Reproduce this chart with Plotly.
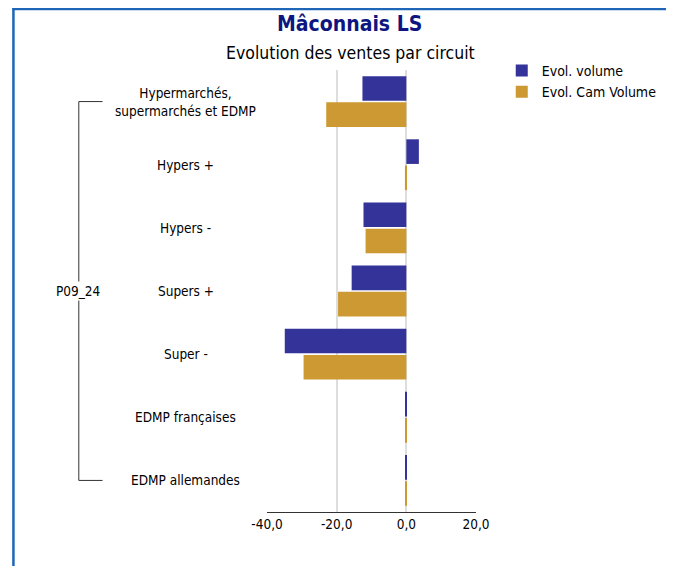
import plotly.graph_objects as go

categories = ["Hypermarchés, supermarchés et EDMP", "Hypers +", "Hypers -", "Supers +",
              "Super -", "EDMP françaises", "EDMP allemandes"]
category_labels = ["Hypermarchés,<br>supermarchés et EDMP", "Hypers +", "Hypers -", "Supers +",
                   "Super -", "EDMP françaises", "EDMP allemandes"]
evol_volume = [-12.6, 3.6, -12.3, -15.7, -34.9, -0.2, -0.2]
evol_cam_volume = [-23.0, -0.4, -11.7, -19.6, -29.5, -0.2, -0.2]
group_label = "P09_24"
tick_vals = [-40, -20, 0, 20]
tick_text = ["-40,0", "-20,0", "0,0", "20,0"]

FONT = "Tahoma, 'DejaVu Sans Condensed', 'DejaVu Sans', sans-serif"

OFF = 8  # page body margin
W, H = 674 - OFF, 566 - OFF
L, R, T, B = 267, 478, 70, 512  # plot area in screenshot pixels
pw, ph = R - L, B - T

def xp(px):
    return (px - L) / pw

def yp(py):
    return (B - py) / ph

fig = go.Figure()
fig.add_trace(go.Bar(y=categories, x=evol_volume, orientation="h", name="Evol. volume",
                     marker=dict(color="#343399", line=dict(width=0))))
fig.add_trace(go.Bar(y=categories, x=evol_cam_volume, orientation="h", name="Evol. Cam Volume",
                     marker=dict(color="#cc9933", line=dict(width=0))))

annotations = []
for cat, lab in zip(categories, category_labels):
    annotations.append(dict(x=xp(185), xref="paper", y=cat, yref="y", text=lab,
                            showarrow=False, xanchor="center", yanchor="middle",
                            font=dict(family=FONT, size=13.5, color="#000000")))
annotations.append(dict(x=xp(77), xref="paper", y=categories[3], yref="y", text=group_label,
                        showarrow=False, xanchor="center", yanchor="middle", bgcolor="white",
                        font=dict(family=FONT, size=13.5, color="#000000")))
annotations.append(dict(x=xp(350), xref="paper", y=yp(24), yref="paper", text="<b>Mâconnais LS</b>",
                        showarrow=False, xanchor="center", yanchor="middle",
                        font=dict(family=FONT, size=21, color="#0d1680")))
annotations.append(dict(x=xp(351), xref="paper", y=yp(53), yref="paper",
                        text="Evolution des ventes par circuit",
                        showarrow=False, xanchor="center", yanchor="middle",
                        font=dict(family=FONT, size=17.5, color="#000000")))

shapes = [
    # bracket
    dict(type="line", xref="paper", yref="y", x0=xp(77), x1=xp(77), y0=categories[0], y1=categories[-1],
         line=dict(color="#333333", width=1), layer="below"),
    dict(type="line", xref="paper", yref="y", x0=xp(77), x1=xp(101), y0=categories[0], y1=categories[0],
         line=dict(color="#333333", width=1)),
    dict(type="line", xref="paper", yref="y", x0=xp(77), x1=xp(101), y0=categories[-1], y1=categories[-1],
         line=dict(color="#333333", width=1)),
    # blue frame
    dict(type="line", xref="paper", yref="paper", x0=xp(10), x1=xp(690), y0=yp(9), y1=yp(9),
         line=dict(color="#1f66b8", width=2.5)),
    dict(type="line", xref="paper", yref="paper", x0=xp(11), x1=xp(11), y0=yp(8), y1=yp(580),
         line=dict(color="#1f66b8", width=2.5)),
]

fig.update_layout(
    width=W, height=H,
    margin=dict(l=L - OFF, r=W - (R - OFF), t=T - OFF, b=H - (B - OFF), pad=0),
    paper_bgcolor="white", plot_bgcolor="white",
    barmode="group", bargap=0.17, bargroupgap=0.06,
    separators=", ",
    font=dict(family=FONT, size=13.5, color="#000000"),
    showlegend=True,
    legend=dict(x=xp(504), y=yp(55), xanchor="left", yanchor="top", traceorder="normal",
                font=dict(family=FONT, size=14, color="#000000"), bgcolor="rgba(0,0,0,0)",
                itemwidth=30, tracegroupgap=0),
    xaxis=dict(range=[-40, 20], tickvals=tick_vals, ticktext=tick_text, showgrid=True,
               gridcolor="#dddddd", gridwidth=1.5, zeroline=False, showline=True,
               linecolor="#333333", linewidth=1, ticks="", tickfont=dict(family=FONT, size=13.5),
               fixedrange=True),
    yaxis=dict(type="category", autorange="reversed", showticklabels=False, showgrid=False,
               zeroline=False, showline=False, ticks=""),
    annotations=annotations, shapes=shapes,
)

fig.write_html("out.html", config={"displayModeBar": False})
